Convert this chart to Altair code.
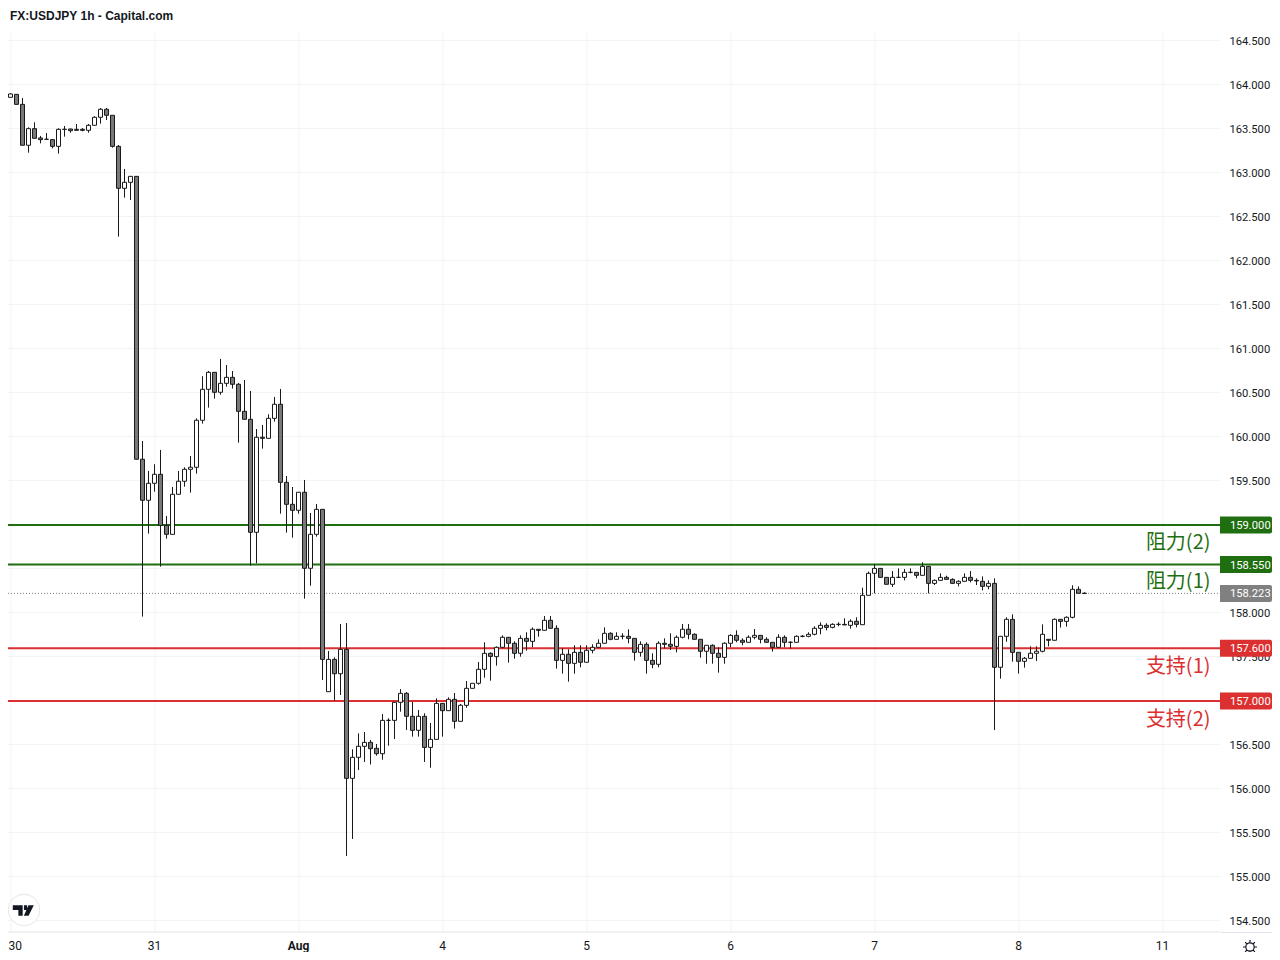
import altair as alt
import pandas as pd

first_bar = -2
opens = [163.870,163.883,163.860,163.894,163.780,163.315,163.504,163.398,163.383,163.379,163.303,163.496,163.500,163.496,163.496,163.485,163.542,163.633,163.724,163.656,163.303,162.826,162.894,162.962,
159.747,159.281,159.474,159.576,158.996,158.894,159.349,159.497,159.633,159.656,160.190,160.542,160.735,160.508,160.610,160.678,160.599,160.292,160.201,158.917,159.997,159.985,160.212,160.372,
159.485,159.235,159.167,159.372,158.508,158.894,159.178,157.106,157.473,157.310,157.587,156.121,156.360,156.485,156.530,156.462,156.401,156.780,156.780,156.985,157.087,156.826,156.667,156.826,
156.473,156.564,156.973,156.890,157.019,156.769,156.951,157.144,157.201,157.360,157.542,157.504,157.610,157.724,157.656,157.542,157.712,157.678,157.815,157.803,157.917,157.826,157.462,157.531,
157.428,157.553,157.440,157.576,157.610,157.656,157.769,157.701,157.735,157.735,157.712,157.553,157.644,157.462,157.417,157.656,157.644,157.621,157.724,157.815,157.758,157.701,157.565,157.633,
157.542,157.496,157.656,157.746,157.690,157.667,157.724,157.746,157.701,157.667,157.610,157.724,157.667,157.667,157.735,157.735,157.758,157.826,157.860,157.837,157.871,157.871,157.860,157.906,
157.867,158.201,158.451,158.507,158.405,158.326,158.405,158.405,158.462,158.462,158.428,158.530,158.337,158.371,158.405,158.382,158.337,158.360,158.405,158.371,158.360,158.303,158.337,157.383,
157.735,157.928,157.553,157.451,157.485,157.542,157.565,157.701,157.690,157.928,157.905,157.951,158.269,158.224]
highs = [163.880,163.883,163.906,163.894,163.852,163.519,163.576,163.421,163.455,163.383,163.508,163.534,163.504,163.557,163.511,163.557,163.644,163.739,163.739,163.656,163.318,163.046,162.962,162.962,
159.955,159.614,159.690,159.853,159.103,159.432,159.614,159.656,159.784,160.212,160.690,160.750,160.735,160.887,160.818,160.750,160.614,160.648,160.523,160.091,160.137,160.258,160.455,160.546,
159.557,159.432,159.372,159.512,159.137,159.239,159.178,157.568,157.496,157.875,157.886,156.451,156.632,156.648,156.557,156.511,156.852,156.803,156.985,157.136,157.102,156.990,156.898,156.860,
156.750,157.030,156.973,157.042,157.091,156.966,157.227,157.201,157.443,157.667,157.553,157.621,157.746,157.724,157.678,157.746,157.781,157.837,157.815,157.966,157.966,157.860,157.599,157.587,
157.633,157.633,157.633,157.644,157.701,157.837,157.781,157.781,157.769,157.815,157.712,157.678,157.667,157.542,157.678,157.712,157.769,157.746,157.875,157.875,157.769,157.701,157.633,157.644,
157.610,157.667,157.758,157.803,157.712,157.746,157.818,157.746,157.724,157.667,157.758,157.746,157.678,157.746,157.750,157.781,157.849,157.894,157.883,157.883,157.894,157.940,157.928,157.951,
158.288,158.470,158.557,158.507,158.405,158.477,158.507,158.500,158.507,158.462,158.576,158.530,158.382,158.451,158.424,158.394,158.371,158.451,158.477,158.394,158.417,158.371,158.394,157.735,
157.951,157.985,157.553,157.500,157.621,157.621,157.871,157.701,157.939,157.928,157.962,158.315,158.303,158.235]
lows = [163.746,163.837,163.860,163.780,163.315,163.231,163.394,163.337,163.383,163.280,163.220,163.413,163.458,163.481,163.474,163.458,163.542,163.561,163.602,163.288,162.277,162.720,162.693,159.747,
157.959,158.902,159.379,158.527,158.845,158.894,159.349,159.436,159.368,159.584,160.152,160.334,160.436,160.481,160.572,160.550,159.936,160.201,158.538,158.565,159.868,159.985,160.175,159.129,
158.913,158.856,159.129,158.163,158.311,158.868,157.238,157.106,157.004,157.068,155.239,155.432,156.216,156.307,156.279,156.379,156.333,156.492,156.568,156.879,156.670,156.595,156.595,156.307,
156.242,156.564,156.595,156.890,156.686,156.769,156.924,157.144,157.186,157.265,157.231,157.402,157.599,157.436,157.481,157.504,157.572,157.610,157.731,157.803,157.826,157.368,157.311,157.220,
157.311,157.383,157.440,157.542,157.610,157.656,157.690,157.701,157.701,157.656,157.459,157.504,157.311,157.372,157.383,157.599,157.580,157.553,157.712,157.701,157.701,157.493,157.424,157.424,
157.322,157.424,157.610,157.667,157.633,157.667,157.701,157.656,157.667,157.561,157.610,157.610,157.595,157.667,157.724,157.724,157.746,157.758,157.803,157.826,157.849,157.864,157.822,157.837,
157.867,158.201,158.223,158.405,158.326,158.295,158.405,158.371,158.451,158.394,158.428,158.223,158.318,158.371,158.382,158.329,158.303,158.357,158.348,158.318,158.257,158.269,156.671,157.254,
157.674,157.447,157.311,157.379,157.485,157.455,157.553,157.621,157.690,157.834,157.845,157.939,158.224,158.220]
closes = [163.850,163.860,163.898,163.780,163.315,163.504,163.394,163.379,163.383,163.303,163.496,163.496,163.481,163.485,163.485,163.542,163.633,163.724,163.656,163.303,162.826,162.894,162.962,159.747,
159.281,159.474,159.576,158.996,158.894,159.349,159.497,159.633,159.656,160.190,160.542,160.735,160.508,160.610,160.678,160.599,160.292,160.201,158.917,159.997,159.985,160.212,160.372,159.485,
159.235,159.167,159.372,158.508,158.894,159.178,157.473,157.473,157.310,157.587,156.121,156.360,156.485,156.530,156.458,156.401,156.780,156.780,156.985,157.087,156.826,156.667,156.826,156.473,
156.564,156.973,156.890,157.019,156.769,156.951,157.144,157.201,157.360,157.542,157.507,157.610,157.724,157.656,157.542,157.712,157.678,157.815,157.803,157.917,157.826,157.462,157.531,157.428,
157.553,157.440,157.576,157.610,157.656,157.769,157.701,157.735,157.735,157.712,157.553,157.644,157.462,157.417,157.656,157.644,157.621,157.724,157.815,157.758,157.701,157.565,157.633,157.542,
157.496,157.656,157.746,157.690,157.667,157.724,157.746,157.701,157.667,157.610,157.724,157.667,157.667,157.735,157.735,157.758,157.826,157.860,157.837,157.871,157.871,157.864,157.906,157.871,
158.201,158.451,158.507,158.405,158.326,158.405,158.405,158.462,158.462,158.428,158.530,158.337,158.371,158.405,158.382,158.337,158.360,158.405,158.371,158.364,158.303,158.337,157.383,157.735,
157.928,157.553,157.451,157.485,157.542,157.565,157.758,157.690,157.928,157.905,157.951,158.269,158.224,158.223]

x_tick_bars = [0, 24, 48, 72, 96, 120, 144, 168, 192]
x_tick_labels = ["30", "31", "Aug", "4", "5", "6", "7", "8", "11"]
y_ticks = [154.5, 155.0, 155.5, 156.0, 156.5, 157.0, 157.5, 158.0, 158.5, 159.0, 159.5,
           160.0, 160.5, 161.0, 161.5, 162.0, 162.5, 163.0, 163.5, 164.0, 164.5]
hidden_tick_labels = [157.0, 158.5, 159.0]

level_prices = [159.0, 158.55, 157.6, 157.0]
level_colors = ["#1f6f10", "#1f6f10", "#dc2f2f", "#dc2f2f"]
note_prices = [158.795, 158.35, 157.39, 156.785]
note_texts = ["阻力(2)", "阻力(1)", "支持(1)", "支持(2)"]
last_price = 158.223
title_text = "FX:USDJPY 1h - Capital.com"

FONT = "Roboto"
TEXT = "#131722"
GRID = "#f3f3f3"
BORDER = "#e0e3eb"
BODY_GREY = "#787878"
PLOT_W, PLOT_H = 1212, 901

m = min(len(opens), len(highs), len(lows), len(closes))
bars = pd.DataFrame({
    "bar": [first_bar + k for k in range(m)],
    "open": opens[:m], "high": highs[:m], "low": lows[:m], "close": closes[:m],
})
bars["up"] = bars["close"] >= bars["open"]

xs = alt.Scale(domain=[-2.5 / 6, (PLOT_W - 2.5) / 6], nice=False, zero=False, padding=0)
ys = alt.Scale(domain=[154.375, 164.5 + 10 / 88], nice=False, zero=False, padding=0)

x_axis = alt.Axis(
    values=x_tick_bars, title=None, ticks=False, grid=True, gridColor=GRID,
    domain=True, domainColor=BORDER, labelColor=TEXT, labelFont=FONT, labelFontSize=12,
    labelPadding=9, labelAngle=0, translate=0, labelFlush=False, labelOverlap=False,
    labelExpr="[" + ",".join(f"'{t}'" for t in x_tick_labels) + "][datum.value/24]",
    labelFontWeight=alt.ExprRef("datum.value == 48 ? 'bold' : 'normal'"),
    labelAlign=alt.ExprRef("datum.value == 0 ? 'left' : 'center'"),
    labelOffset=alt.ExprRef("datum.value == 0 ? -2 : 0"),
)
hidden_expr = "||".join(f"datum.value=={v}" for v in hidden_tick_labels)
y_axis = alt.Axis(
    values=y_ticks, title=None, orient="right", ticks=False, grid=True, gridColor=GRID,
    domain=False, labelColor=TEXT, labelFont=FONT, labelFontSize=11.2, labelPadding=10,
    translate=-0.5, labelOverlap=False, labelFlush=False, labelOffset=1,
    labelExpr=f"({hidden_expr}) ? '' : format(datum.value, '.3f')",
)

X = alt.X("bar:Q", scale=xs, axis=x_axis)
Y = alt.Y("low:Q", scale=ys, axis=y_axis)

levels = pd.DataFrame({"price": level_prices, "color": level_colors,
                       "txt": [f"{p:.3f}" for p in level_prices]})
levels["lo"] = levels["price"] - 8.5 / 88
levels["hi"] = levels["price"] + 8.5 / 88
notes = pd.DataFrame({"price": note_prices, "txt": note_texts, "color": level_colors})
last = pd.DataFrame({"price": [last_price], "txt": [f"{last_price:.3f}"]})
last["lo"] = last["price"] - 8.5 / 88
last["hi"] = last["price"] + 8.5 / 88
cs = alt.Color("color:N", scale=None, legend=None)
py = alt.Y("price:Q", scale=ys, axis=y_axis)

level_lines = alt.Chart(levels).mark_rule(strokeWidth=2).encode(
    y=py, x=alt.value(0), x2=alt.value(PLOT_W), color=cs)
last_line = alt.Chart(last).mark_rule(strokeWidth=1, strokeDash=[1, 2], color="#808080").encode(
    y=py, x=alt.value(0), x2=alt.value(PLOT_W))

wicks = alt.Chart(bars).mark_rule(color="#1a1a1a", strokeWidth=1, clip=True).encode(
    x=X, y=Y, y2="high:Q")
bodies = alt.Chart(bars).mark_bar(size=4, stroke="#1a1a1a", strokeWidth=1, clip=True).encode(
    x=X, y=alt.Y("open:Q", scale=ys, axis=y_axis), y2="close:Q",
    fill=alt.condition("datum.up", alt.value("#ffffff"), alt.value(BODY_GREY)))

level_tags = alt.Chart(levels).mark_rect(cornerRadiusTopRight=2, cornerRadiusBottomRight=2).encode(
    y=alt.Y("lo:Q", scale=ys, axis=y_axis), y2="hi:Q",
    x=alt.value(PLOT_W), x2=alt.value(PLOT_W + 52), color=cs)
last_tag = alt.Chart(last).mark_rect(color="#808080", cornerRadiusTopRight=2, cornerRadiusBottomRight=2).encode(
    y=alt.Y("lo:Q", scale=ys, axis=y_axis), y2="hi:Q",
    x=alt.value(PLOT_W), x2=alt.value(PLOT_W + 52))
tag_style = dict(color="white", font=FONT, fontSize=11.2, align="left", baseline="middle", dy=1)
level_text = alt.Chart(levels).mark_text(**tag_style).encode(
    y=py, x=alt.value(PLOT_W + 10), text="txt:N")
last_text = alt.Chart(last).mark_text(**tag_style).encode(
    y=py, x=alt.value(PLOT_W + 10), text="txt:N")
note_text = alt.Chart(notes).mark_text(
    font="Noto Sans CJK SC", fontSize=20, align="right", baseline="middle").encode(
    y=py, x=alt.value(1202.5), text="txt:N", color=cs)

title = alt.Chart(pd.DataFrame({"t": [title_text]})).mark_text(
    font="Liberation Sans", fontWeight="bold", fontSize=12, color=TEXT,
    align="left", baseline="middle").encode(x=alt.value(2), y=alt.value(-15), text="t:N")

border_right = alt.Chart(pd.DataFrame({"a": [0]})).mark_rule(color=BORDER, strokeWidth=1).encode(
    x=alt.value(PLOT_W + 1), x2=alt.value(PLOT_W + 60), y=alt.value(PLOT_H + 0.5))

logo_bg = alt.Chart(pd.DataFrame({"a": [0]})).mark_point(
    shape="circle", size=1000, filled=True, fill="white", stroke="#e6e6e6", strokeWidth=1, opacity=1
).encode(x=alt.value(16), y=alt.value(879))
logo_path = ("M-1,-.5H-.06V.5H-.47V-.05H-1Z"
             "M.06,-.5H.37V-.05H.06Z"
             "M1,-.5L.5,.5H.05L.5,-.5Z")
logo = alt.Chart(pd.DataFrame({"a": [0]})).mark_point(
    shape=logo_path, size=441, filled=True, fill=TEXT, strokeWidth=0, opacity=1
).encode(x=alt.value(15.3), y=alt.value(879.5))

gear_path = ("M-.6,0A.6,.6 0 1 0 .6,0A.6,.6 0 1 0 -.6,0Z"
             "M0,-.6V-1M0,.6V1M-.6,0H-1M.6,0H1"
             "M-.42,-.42L-.7,-.7M.42,-.42L.7,-.7M-.42,.42L-.7,.7M.42,.42L.7,.7")
gear = alt.Chart(pd.DataFrame({"a": [0]})).mark_point(
    shape=gear_path, size=196, filled=False, stroke=TEXT, strokeWidth=1.2, opacity=1
).encode(x=alt.value(1242), y=alt.value(PLOT_H + 15))

chart = alt.layer(
    level_lines, last_line, wicks, bodies,
    level_tags, last_tag, level_text, last_text, note_text,
    border_right, title, logo_bg, logo, gear,
).properties(
    width=PLOT_W, height=PLOT_H,
    padding={"left": 0, "top": 23, "right": 52, "bottom": 20},
    autosize=alt.AutoSizeParams(type="none"),
    background="white",
).configure_view(stroke=None).resolve_scale(x="shared", y="shared")

chart.save("out.html", embed_options={"renderer": "svg", "actions": False})
